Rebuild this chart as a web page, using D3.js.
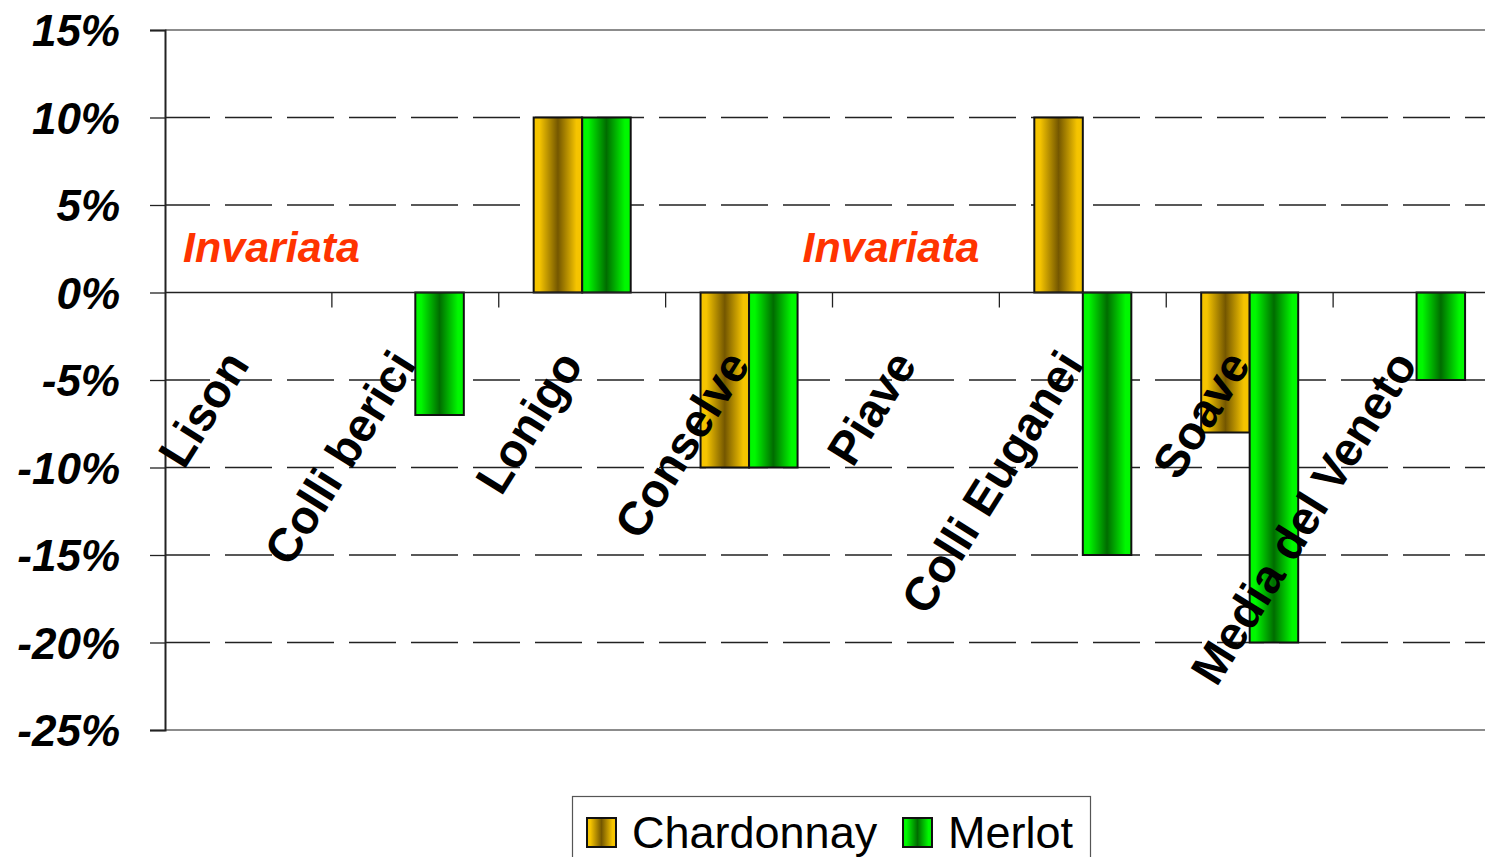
<!DOCTYPE html>
<html>
<head>
<meta charset="utf-8">
<script src="https://cdn.jsdelivr.net/npm/d3@7"></script>
<style>
  html, body { margin: 0; padding: 0; background: #fff; }
  svg { display: block; font-family: "Liberation Sans", Arial, sans-serif; }
</style>
</head>
<body>
<div id="chart"></div>
<script>
// data (percent)
const categories = ["Lison", "Colli berici", "Lonigo", "Conselve", "Piave", "Colli Euganei", "Soave", "Media del Veneto"];
const seriesNames = ["Chardonnay", "Merlot"];
const chardonnay = [null, null, 10, -10, null, 10, -8, null];
const merlot = [null, -7, 10, -10, null, -15, -20, -5];
const yTicks = [15, 10, 5, 0, -5, -10, -15, -20, -25];
const noteCategories = ["Lison", "Piave"];
const noteText = "Invariata";

const W = 1485, H = 857;
const plot = { l: 165, r: 1500, t: 30, b: 730 };

const svg = d3.select("#chart").append("svg")
  .attr("width", W)
  .attr("height", H);

const defs = svg.append("defs");
function addGradient(id, edge, mid) {
  const g = defs.append("linearGradient")
    .attr("id", id)
    .attr("x1", "0%").attr("x2", "100%")
    .attr("y1", "0%").attr("y2", "0%");
  g.append("stop").attr("offset", "0%").attr("stop-color", edge);
  g.append("stop").attr("offset", "12%").attr("stop-color", edge);
  g.append("stop").attr("offset", "50%").attr("stop-color", mid);
  g.append("stop").attr("offset", "88%").attr("stop-color", edge);
  g.append("stop").attr("offset", "100%").attr("stop-color", edge);
}
addGradient("gradChard", "#f5c400", "#745700");
addGradient("gradMerlot", "#00f800", "#006c00");
const fills = { Chardonnay: "url(#gradChard)", Merlot: "url(#gradMerlot)" };

const x = d3.scaleBand().domain(categories).range([plot.l, plot.r]).padding(0);
const xInner = d3.scaleBand().domain(seriesNames).range([0, x.bandwidth()])
  .paddingInner(0).paddingOuter(0.72);
const y = d3.scaleLinear().domain([-25, 15]).range([plot.b, plot.t]);

// plot frame (top / bottom in grey)
svg.append("line")
  .attr("x1", plot.l).attr("x2", plot.r)
  .attr("y1", y(15)).attr("y2", y(15))
  .attr("stroke", "#8c8c8c").attr("stroke-width", 2);
svg.append("line")
  .attr("x1", plot.l).attr("x2", plot.r)
  .attr("y1", y(-25)).attr("y2", y(-25))
  .attr("stroke", "#8c8c8c").attr("stroke-width", 2);

// dashed gridlines
svg.append("g")
  .selectAll("line")
  .data(yTicks.filter((d) => d !== 15 && d !== -25 && d !== 0))
  .join("line")
  .attr("x1", plot.l).attr("x2", plot.r)
  .attr("y1", (d) => y(d)).attr("y2", (d) => y(d))
  .attr("stroke", "#222")
  .attr("stroke-width", 1.3)
  .attr("stroke-dasharray", "47,15")
  .attr("stroke-dashoffset", -60);

// y axis
const yAxis = svg.append("g")
  .attr("transform", `translate(${plot.l},0)`)
  .call(d3.axisLeft(y).tickValues(yTicks).tickSize(15).tickPadding(0)
    .tickFormat((d) => d + "%"));
yAxis.select(".domain").attr("stroke", "#222").attr("stroke-width", 2);
yAxis.selectAll(".tick line").attr("stroke", "#222").attr("stroke-width", 1.3);
yAxis.selectAll(".tick text")
  .attr("x", -45)
  .attr("dy", "0.36em")
  .attr("fill", "#000")
  .style("font-size", "44px")
  .style("font-weight", "bold")
  .style("font-style", "italic");

// bars
const rows = categories.map((c, i) => ({ c, Chardonnay: chardonnay[i], Merlot: merlot[i] }));
const bars = [];
rows.forEach((r) => {
  seriesNames.forEach((s) => {
    if (r[s] !== null) bars.push({ c: r.c, s, v: r[s] });
  });
});
svg.append("g")
  .selectAll("rect")
  .data(bars)
  .join("rect")
  .attr("x", (d) => x(d.c) + xInner(d.s))
  .attr("width", xInner.bandwidth())
  .attr("y", (d) => y(Math.max(0, d.v)))
  .attr("height", (d) => Math.abs(y(d.v) - y(0)))
  .attr("fill", (d) => fills[d.s])
  .attr("stroke", "#111")
  .attr("stroke-width", 2);

// zero line with category ticks
svg.append("line")
  .attr("x1", plot.l).attr("x2", plot.r)
  .attr("y1", y(0)).attr("y2", y(0))
  .attr("stroke", "#222").attr("stroke-width", 1.5);
svg.append("g")
  .selectAll("line")
  .data(categories.slice(1))
  .join("line")
  .attr("x1", (d) => x(d)).attr("x2", (d) => x(d))
  .attr("y1", y(0)).attr("y2", y(0) + 15)
  .attr("stroke", "#222").attr("stroke-width", 1.3);

// category labels, rotated
svg.append("g")
  .selectAll("text")
  .data(categories)
  .join("text")
  .attr("transform", (d) => `translate(${x(d) + x.bandwidth() / 2 + 2},${y(0) + 72}) rotate(-58)`)
  .attr("text-anchor", "end")
  .style("font-size", "47px")
  .style("font-weight", "bold")
  .attr("fill", "#000")
  .text((d) => d);

// notes for unchanged categories
const noteOffset = { Lison: 18, Piave: -30 };
svg.append("g")
  .selectAll("text")
  .data(noteCategories)
  .join("text")
  .attr("x", (d) => x(d) + noteOffset[d])
  .attr("y", y(0) - 31)
  .style("font-size", "43px")
  .style("font-weight", "bold")
  .style("font-style", "italic")
  .attr("fill", "#ff3300")
  .text(noteText);

// legend
const legend = svg.append("g");
legend.append("rect")
  .attr("x", 572.5).attr("y", 796.5)
  .attr("width", 518).attr("height", 80)
  .attr("fill", "#fff")
  .attr("stroke", "#555").attr("stroke-width", 1.2);
const legendX = { Chardonnay: 587, Merlot: 903 };
const items = legend.selectAll("g.item")
  .data(seriesNames)
  .join("g")
  .attr("class", "item")
  .attr("transform", (d) => `translate(${legendX[d]},818)`);
items.append("rect")
  .attr("width", 29).attr("height", 29)
  .attr("fill", (d) => fills[d])
  .attr("stroke", "#111").attr("stroke-width", 2);
items.append("text")
  .attr("x", 45).attr("y", 30)
  .style("font-size", "45px")
  .attr("fill", "#000")
  .text((d) => d);
</script>
</body>
</html>
